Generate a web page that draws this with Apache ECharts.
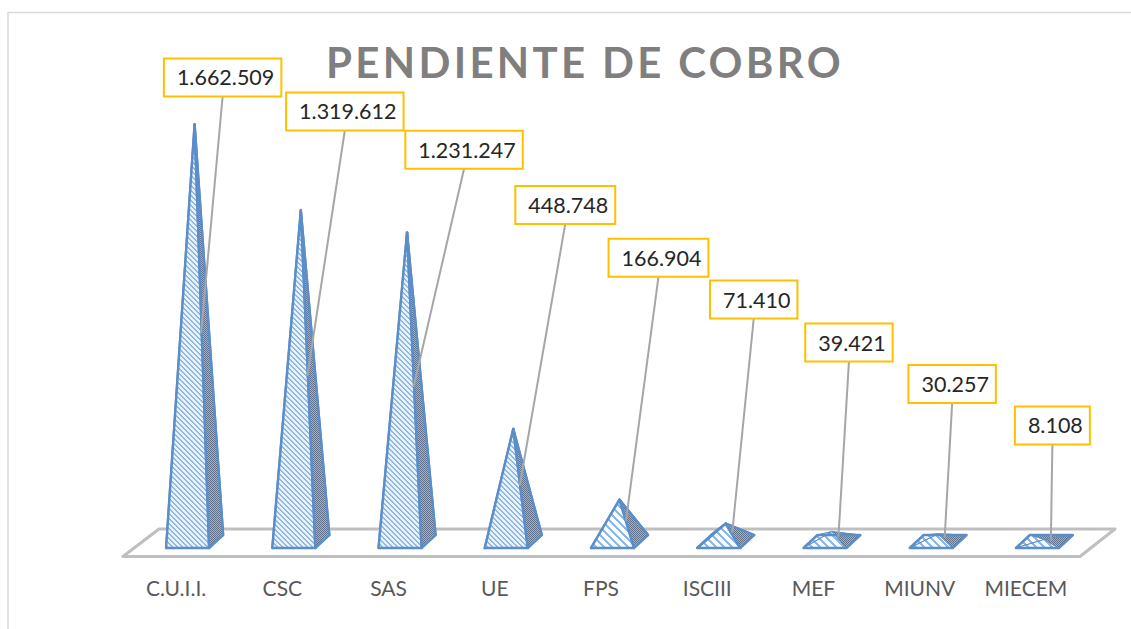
<!DOCTYPE html>
<html>
<head>
<meta charset="utf-8">
<title>PENDIENTE DE COBRO</title>
<script src="https://cdn.jsdelivr.net/npm/echarts@6/dist/echarts.min.js"></script>
<style>
	html, body { margin: 0; padding: 0; background: #fff; }
	#main { width: 1131px; height: 629px; }
</style>
</head>
<body>
<div id="main"></div>
<script>
var chartTitle = 'PENDIENTE DE COBRO';
var categories = ['C.U.I.I.', 'CSC', 'SAS', 'UE', 'FPS', 'ISCIII', 'MEF', 'MIUNV', 'MIECEM'];
var pendiente = [1662509, 1319612, 1231247, 448748, 166904, 71410, 39421, 30257, 8108];
var labels = ['1.662.509', '1.319.612', '1.231.247', '448.748', '166.904', '71.410', '39.421', '30.257', '8.108'];

// recuadros de las etiquetas, relativos a la punta de cada piramide
var calloutDx = [28, 44, 57, 52, 39, 28, 17, 14, 8];
var calloutGap = [28, 80, 64, 205, 223, 205, 170, 131, 95];

// tramas de relleno
function stripes(size, band, ink, paper) {
	var c = document.createElement('canvas');
	c.width = c.height = size;
	var ctx = c.getContext('2d');
	for (var x = 0; x < size; x++) {
		for (var y = 0; y < size; y++) {
			ctx.fillStyle = ((x - y + size) % size) < band ? ink : paper;
			ctx.fillRect(x, y, 1, 1);
		}
	}
	return { image: c, repeat: 'repeat' };
}
var frontFine = stripes(5, 2, '#8fb8e2', '#e9f2fb');
var frontWide = stripes(8, 3, '#8fb8e2', '#fafcff');
var sideFine = stripes(2, 1, '#5f7088', '#aab1ba');

var EDGE = '#5b8dc8';

function renderPyramid(params, api) {
	var i = api.value(0);
	var top = api.coord([i, api.value(1)]);
	var zero = api.coord([i, 0]);
	var mid = api.coord([i, api.value(1) / 2]);
	var x0 = zero[0] - 10;
	var x1 = zero[0] + 33;
	var shift = 14;
	var yFront = zero[1] + 6.5;
	var yBack = zero[1] - 6.5;
	var apex = [zero[0] + 18.5, top[1]];
	var height = zero[1] - top[1];
	var front = height < 60 ? frontWide : frontFine;
	// en las piramides muy bajas solo destaca el contorno de la base
	var tiny = height < 15;

	function face(points, fill) {
		return {
			type: 'polygon',
			shape: { points: points },
			style: { fill: fill, stroke: EDGE, lineWidth: tiny ? 1 : 2.4, lineJoin: 'round' }
		};
	}

	var boxX = apex[0] + calloutDx[i];
	var boxBottom = apex[1] - calloutGap[i];

	var children = [
		face([[x0 + shift, yBack], [x1 + shift, yBack], apex], sideFine),
		face([[x0, yFront], [x0 + shift, yBack], apex], front),
		face([[x0, yFront], [x1, yFront], apex], front),
		face([[x1, yFront], [x1 + shift, yBack], apex], sideFine)
	];
	if (tiny) {
		children.push({
			type: 'polygon',
			shape: { points: [[x0, yFront], [x1, yFront], [x1 + shift, yBack], [x0 + shift, yBack]] },
			style: { fill: 'none', stroke: EDGE, lineWidth: 2.4, lineJoin: 'round' }
		});
	}
	children.push({
		type: 'line',
		shape: { x1: boxX, y1: boxBottom, x2: apex[0] + 6.5, y2: mid[1] },
		style: { stroke: '#a6a6a6', lineWidth: 2 }
	}, {
		type: 'text',
		style: {
			text: labels[i],
			x: boxX,
			y: boxBottom - 19,
			align: 'center',
			verticalAlign: 'middle',
			font: '21.5px Lato',
			fill: '#262626',
			backgroundColor: '#fff',
			borderColor: '#ffc000',
			borderWidth: 2,
			lineHeight: 24,
			padding: [6, 6, 6, 12]
		}
	});

	return { type: 'group', children: children };
}

// suelo del grafico 3d
function renderFloor(params, api) {
	var cs = params.coordSys;
	var y0 = api.coord([0, 0])[1];
	var front = y0 + 15;
	var back = y0 - 12.5;
	return {
		type: 'polygon',
		shape: {
			points: [
				[cs.x, front],
				[cs.x + cs.width + 1, front],
				[cs.x + cs.width + 36, back],
				[cs.x + 36, back]
			]
		},
		style: { fill: 'none', stroke: '#bfbfbf', lineWidth: 3, lineJoin: 'round' }
	};
}

var chart = echarts.init(document.getElementById('main'), null, { renderer: 'svg' });

// el titulo va espaciado, echarts no tiene opcion para eso
chart.on('finished', function() {
	var texts = document.querySelectorAll('#main text');
	for (var i = 0; i < texts.length; i++) {
		if (texts[i].textContent === chartTitle) {
			texts[i].style.letterSpacing = '3.3px';
		}
	}
});

chart.setOption({
	backgroundColor: '#fff',
	animation: false,
	title: {
		text: chartTitle,
		left: 326,
		top: 41,
		padding: 0,
		textStyle: { fontFamily: 'Lato', fontWeight: 'bold', fontSize: 42, color: '#7f7f7f' }
	},
	graphic: [{
		type: 'polyline',
		shape: { points: [[8, 629], [8, 12.5], [1131, 12.5]] },
		style: { fill: 'none', stroke: '#d9d9d9', lineWidth: 1.5 },
		silent: true
	}],
	grid: { left: 123, width: 956, top: 90, height: 451.5 },
	xAxis: {
		type: 'category',
		data: categories,
		axisLine: { show: false },
		axisTick: { show: false },
		axisLabel: { interval: 0, margin: 35, fontFamily: 'Lato', fontSize: 21, color: '#595959' }
	},
	yAxis: { type: 'value', min: 0, max: 1800000, show: false },
	series: [{
		type: 'custom',
		z: 1,
		silent: true,
		clip: false,
		data: [[0]],
		encode: { x: 0 },
		renderItem: renderFloor
	}, {
		type: 'custom',
		z: 2,
		clip: false,
		data: pendiente.map(function(v, i) { return [i, v]; }),
		encode: { x: 0, y: 1 },
		renderItem: renderPyramid
	}]
});
</script>
</body>
</html>
